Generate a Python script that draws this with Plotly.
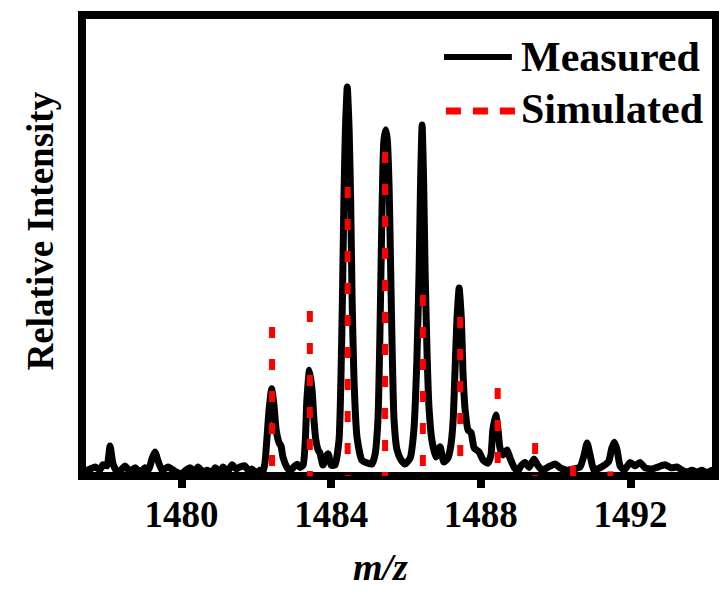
import plotly.graph_objects as go

# ---------------- data ----------------
mz_measured = [
    1477.42, 1477.56, 1477.69, 1477.82, 1477.90, 1478.01, 1478.09, 1478.17, 1478.28, 1478.38,
    1478.49, 1478.62, 1478.76, 1478.89, 1479.02, 1479.13, 1479.21, 1479.29, 1479.37, 1479.48,
    1479.64, 1479.83, 1480.01, 1480.12, 1480.23, 1480.36, 1480.44, 1480.57, 1480.68, 1480.82,
    1480.90, 1481.03, 1481.11, 1481.24, 1481.35, 1481.46, 1481.56, 1481.70, 1481.80, 1481.88,
    1481.99, 1482.10, 1482.18,
    1482.23, 1482.28, 1482.34, 1482.41, 1482.47, 1482.53, 1482.61, 1482.66, 1482.71, 1482.82,
    1482.90, 1483.01, 1483.09, 1483.17, 1483.25,
    1483.31, 1483.35, 1483.42, 1483.49, 1483.54, 1483.59, 1483.65, 1483.70, 1483.78, 1483.86,
    1483.92, 1484.00, 1484.10,
    1484.21, 1484.26, 1484.30, 1484.34, 1484.38, 1484.43, 1484.48, 1484.52, 1484.56, 1484.61,
    1484.69, 1484.82, 1484.98,
    1485.09, 1485.17, 1485.25, 1485.30, 1485.34, 1485.38, 1485.41, 1485.46, 1485.50, 1485.55,
    1485.59, 1485.63, 1485.68, 1485.76, 1485.87, 1485.97,
    1486.11, 1486.21, 1486.29, 1486.35, 1486.39, 1486.43, 1486.47, 1486.51, 1486.56, 1486.61,
    1486.69, 1486.80, 1486.91, 1487.01,
    1487.12, 1487.20, 1487.26, 1487.31, 1487.36, 1487.42, 1487.48, 1487.52, 1487.58, 1487.66,
    1487.74, 1487.82, 1487.95, 1488.06, 1488.19,
    1488.27, 1488.32, 1488.40, 1488.46, 1488.51, 1488.59, 1488.70, 1488.78, 1488.89, 1488.99,
    1489.07, 1489.18, 1489.29, 1489.42, 1489.53, 1489.64, 1489.80, 1489.98, 1490.12, 1490.30,
    1490.49, 1490.65, 1490.76, 1490.84, 1490.92, 1491.02, 1491.18, 1491.32, 1491.42, 1491.50,
    1491.57, 1491.64, 1491.72, 1491.83, 1491.99, 1492.12, 1492.25, 1492.39, 1492.57, 1492.73,
    1492.92, 1493.08, 1493.24, 1493.38, 1493.51, 1493.64, 1493.78, 1493.91, 1494.04, 1494.18,
    1494.28,
]
intensity_measured = [
    1.3, 1.8, 2.3, 1.6, 2.9, 2.6, 7.7, 3.1, 1.0, 1.5,
    2.6, 1.2, 2.1, 1.0, 2.1, 1.8, 4.4, 6.2, 4.0, 1.5,
    2.3, 1.2, 0.6, 1.5, 2.1, 1.2, 2.3, 1.0, 1.5, 1.0,
    2.1, 1.0, 2.3, 1.2, 2.9, 1.8, 2.3, 2.6, 1.2, 1.8,
    0.8, 1.5, 1.2,
    3.3, 9.3, 17.0, 22.4, 18.3, 11.8, 8.5, 7.7, 4.9, 2.2,
    1.3, 2.4, 3.0, 2.2, 2.8,
    9.3, 19.5, 27.2, 22.1, 14.4, 9.3, 6.7, 5.9, 2.8, 4.9,
    5.7, 2.8, 2.8,
    9.3, 24.7, 45.2, 71.0, 89.0, 100.0, 89.0, 71.0, 45.2, 24.7,
    10.0, 4.1, 3.3,
    3.1, 5.4, 14.4, 35.0, 58.1, 78.7, 86.4, 89.0, 86.4, 73.5,
    53.0, 32.4, 14.4, 6.7, 4.1, 3.1,
    4.6, 11.8, 29.8, 53.0, 76.1, 90.2, 76.1, 53.0, 32.4, 18.3,
    9.3, 4.9, 7.5, 3.6,
    4.6, 8.0, 14.4, 27.2, 40.1, 48.3, 40.1, 27.2, 17.0, 11.8,
    11.1, 7.2, 6.2, 4.1, 3.3,
    5.4, 11.8, 15.7, 11.8, 7.2, 5.4, 6.7, 4.6, 2.2, 1.3,
    2.6, 3.5, 2.2, 4.4, 2.6, 1.5, 2.3, 3.1, 2.1, 1.5,
    1.8, 2.3, 5.4, 8.5, 5.4, 1.5, 2.1, 2.9, 3.8, 7.2,
    8.7, 6.7, 2.6, 1.5, 3.5, 2.6, 3.5, 2.1, 1.8, 2.3,
    2.9, 2.1, 2.3, 1.5, 1.0, 1.5, 1.0, 1.5, 0.8, 1.5,
    1.0,
]

mz_simulated = [1482.42, 1483.43, 1484.44, 1485.44, 1486.45, 1487.45, 1488.45, 1489.45, 1490.46, 1491.46]
intensity_simulated = [38.3, 42.4, 74.3, 83.3, 46.5, 40.9, 22.6, 8.5, 2.6, 1.2]

tick_values = [1480, 1484, 1488, 1492]
tick_labels = ["1480", "1484", "1488", "1492"]
legend_labels = ["Measured", "Simulated"]
x_title = "<i>m/z</i>"
y_title = "Relative Intensity"

# ---------------- figure ----------------
FONT = "Liberation Serif"

# sticks drawn top-down so the dash pattern starts at each stick's top
stick_x, stick_y = [], []
for m, h in zip(mz_simulated, intensity_simulated):
    stick_x += [m, m, None]
    stick_y += [h, 0, None]

fig = go.Figure()
fig.add_trace(go.Scatter(
    x=mz_measured, y=intensity_measured, mode="lines",
    line=dict(color="black", width=7, shape="spline", smoothing=0.5),
    showlegend=False, hoverinfo="skip",
))
fig.add_trace(go.Scatter(
    x=stick_x, y=stick_y, mode="lines",
    line=dict(color="#ff0000", width=6, dash="11px,21px"),
    connectgaps=False, showlegend=False, hoverinfo="skip",
))

# plot frame
fig.add_shape(type="rect", xref="x domain", yref="y domain", x0=0, x1=1, y0=0, y1=1,
              line=dict(color="black", width=8), layer="below")

# custom legend
fig.add_shape(type="line", xref="paper", yref="paper", x0=0.571, x1=0.678, y0=0.909, y1=0.909,
              line=dict(color="black", width=6))
fig.add_shape(type="line", xref="paper", yref="paper", x0=0.574, x1=0.688, y0=0.792, y1=0.792,
              line=dict(color="#ff0000", width=7, dash="15px,12px"))
fig.add_annotation(xref="paper", yref="paper", x=0.690, y=0.909, text=legend_labels[0],
                   showarrow=False, xanchor="left", yanchor="middle",
                   font=dict(family=FONT, size=42, color="black", weight="bold"))
fig.add_annotation(xref="paper", yref="paper", x=0.690, y=0.797, text=legend_labels[1],
                   showarrow=False, xanchor="left", yanchor="middle",
                   font=dict(family=FONT, size=42, color="black", weight="bold"))

# axis titles
fig.add_annotation(xref="paper", yref="paper", x=-0.066, y=0.531, text=y_title, textangle=-90,
                   showarrow=False, xanchor="center", yanchor="middle",
                   font=dict(family=FONT, size=37, color="black", weight="bold"))
fig.add_annotation(xref="paper", yref="paper", x=0.4716, y=-0.197, text=x_title,
                   showarrow=False, xanchor="center", yanchor="middle",
                   font=dict(family=FONT, size=38, color="black", weight="bold"))

fig.update_layout(
    width=719, height=592,
    margin=dict(l=82, r=3, t=15, b=116),
    paper_bgcolor="white", plot_bgcolor="white",
    xaxis=dict(range=[1477.341, 1494.284], tickvals=tick_values, ticktext=tick_labels,
               ticks="outside", ticklen=11, tickwidth=8, tickcolor="black",
               ticklabelstandoff=-5,
               showline=False, showgrid=False, zeroline=False,
               tickfont=dict(family=FONT, size=37, color="black", weight="bold")),
    yaxis=dict(range=[0, 118.5], visible=False, showgrid=False, zeroline=False),
)

fig.write_html("out.html")
